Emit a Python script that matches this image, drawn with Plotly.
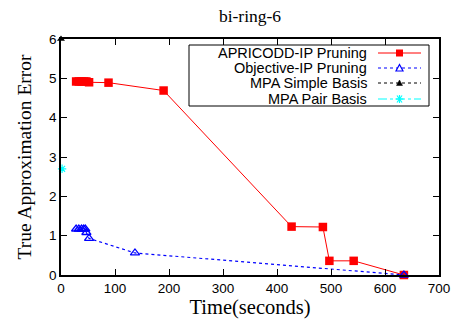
import plotly.graph_objects as go

# ---- data ----
apricodd_t = [28, 33, 38, 43, 47, 52, 88, 190, 427, 485, 497, 542, 635]
apricodd_err = [4.92, 4.92, 4.92, 4.92, 4.92, 4.90, 4.89, 4.69, 1.23, 1.22, 0.36, 0.36, 0.0]

objective_t = [28, 33, 38, 42, 45, 47, 52, 137, 635]
objective_err = [1.17, 1.17, 1.17, 1.17, 1.17, 1.08, 0.93, 0.56, 0.0]

mpa_simple_t = [0]
mpa_simple_err = [6.0]

mpa_pair_t = [2]
mpa_pair_err = [2.7]

x_ticks = [0, 100, 200, 300, 400, 500, 600, 700]
y_ticks = [0, 1, 2, 3, 4, 5, 6]

series_names = ["APRICODD-IP Pruning", "Objective-IP Pruning", "MPA Simple Basis", "MPA Pair Basis"]

# ---- layout geometry (pixels) ----
W, H = 453, 326
L, R, T, B = 61, 439, 39, 275

def px(x):
    return (x - L) / (R - L)

def py(y):
    return (B - y) / (B - T)

fig = go.Figure()
fig.add_trace(go.Scatter(x=apricodd_t, y=apricodd_err, mode="lines+markers",
                         line=dict(color="#ff0000", width=1),
                         marker=dict(symbol="square", size=8.5, color="#ff0000"),
                         cliponaxis=False, showlegend=False, name=series_names[0]))
fig.add_trace(go.Scatter(x=objective_t, y=objective_err, mode="lines+markers",
                         line=dict(color="#0000ff", width=1.2, dash="dot"),
                         marker=dict(symbol="triangle-up-open", size=8, color="#0000ff",
                                     line=dict(width=1.3)),
                         cliponaxis=False, showlegend=False, name=series_names[1]))
fig.add_trace(go.Scatter(x=mpa_simple_t, y=mpa_simple_err, mode="lines+markers",
                         line=dict(color="#000000", width=1, dash="3px,3px"),
                         marker=dict(symbol="triangle-up", size=7, color="#000000"),
                         cliponaxis=False, showlegend=False, name=series_names[2]))
fig.add_trace(go.Scatter(x=mpa_pair_t, y=mpa_pair_err, mode="lines+markers",
                         line=dict(color="#00ffff", width=1, dash="dashdot"),
                         marker=dict(symbol="asterisk-open", size=7, color="#00ffff",
                                     line=dict(width=1.2, color="#00ffff")),
                         cliponaxis=False, showlegend=False, name=series_names[3]))

# ---- custom legend (text left, sample right, like gnuplot) ----
shapes = [dict(type="rect", xref="paper", yref="paper",
               x0=px(189), x1=px(429), y0=py(106), y1=py(45),
               line=dict(color="black", width=1), fillcolor="white", layer="above")]
annotations = []
rows = [53, 68, 83, 99]
styles = [("#ff0000", "solid", 1), ("#0000ff", "dot", 1.2), ("#000000", "3px,3px", 1), ("#00ffff", "dashdot", 1)]
for name, ry, (col, dash, w) in zip(series_names, rows, styles):
    annotations.append(dict(text=name, xref="paper", yref="paper", x=px(369), y=py(ry),
                            xanchor="right", yanchor="middle", showarrow=False,
                            font=dict(family="Liberation Sans, Arial", size=14.5, color="black")))
    shapes.append(dict(type="line", xref="paper", yref="paper", x0=px(378), x1=px(421),
                       y0=py(ry), y1=py(ry), line=dict(color=col, width=w, dash=dash), layer="above"))
cx = 399.5
# square
r0 = rows[0]
shapes.append(dict(type="rect", xref="paper", yref="paper", x0=px(cx - 3.5), x1=px(cx + 3.5),
                   y0=py(r0 + 3.5), y1=py(r0 - 3.5), fillcolor="#ff0000", line=dict(width=0), layer="above"))
# open triangle
r1 = rows[1]
shapes.append(dict(type="path", xref="paper", yref="paper",
                   path=f"M {px(cx-3.5)} {py(r1+3)} L {px(cx+3.5)} {py(r1+3)} L {px(cx)} {py(r1-3.5)} Z",
                   fillcolor="white", line=dict(color="#0000ff", width=1.2), layer="above"))
# filled small triangle
r2 = rows[2]
shapes.append(dict(type="path", xref="paper", yref="paper",
                   path=f"M {px(cx-3)} {py(r2+2.5)} L {px(cx+3)} {py(r2+2.5)} L {px(cx)} {py(r2-3)} Z",
                   fillcolor="black", line=dict(color="black", width=0.5), layer="above"))
# asterisk
r3 = rows[3]
for dx, dy in [(4, 0), (2.5, 3.5), (-2.5, 3.5)]:
    shapes.append(dict(type="line", xref="paper", yref="paper",
                       x0=px(cx - dx), x1=px(cx + dx), y0=py(r3 - dy), y1=py(r3 + dy),
                       line=dict(color="#00ffff", width=1.2), layer="above"))
shapes.append(dict(type="line", xref="paper", yref="paper", x0=px(cx), x1=px(cx),
                   y0=py(r3 - 4), y1=py(r3 + 4), line=dict(color="#00ffff", width=1.2), layer="above"))

axis_common = dict(showgrid=False, zeroline=False, showline=True, linecolor="black", linewidth=1.5,
                   mirror="ticks", ticks="inside", ticklen=6, tickcolor="black", tickwidth=1,
                   automargin=False,
                   tickfont=dict(family="Liberation Sans, Arial", size=13.5, color="black"))

fig.update_layout(
    width=W, height=H,
    margin=dict(l=L, r=W - R, t=T, b=H - B, autoexpand=False),
    plot_bgcolor="white", paper_bgcolor="white",
    title=dict(text="bi-ring-6", x=0.5, xref="paper", xanchor="center", y=1 - 16 / H, yanchor="middle",
               font=dict(family="Liberation Serif, Times New Roman", size=17.5, color="black")),
    xaxis=dict(range=[0, 700], tickvals=x_ticks,
               title=dict(text="Time(seconds)", standoff=4,
                          font=dict(family="Liberation Serif, Times New Roman", size=20.5, color="black")),
               **axis_common),
    yaxis=dict(range=[0, 6], tickvals=y_ticks,
               title=dict(text="True Approximation Error", standoff=12,
                          font=dict(family="Liberation Serif, Times New Roman", size=19.5, color="black")),
               **axis_common),
    shapes=shapes, annotations=annotations, showlegend=False,
)

fig.write_html("out.html", config={"displayModeBar": False},
               post_script="document.body.style.margin='0';document.body.style.overflow='hidden';")
